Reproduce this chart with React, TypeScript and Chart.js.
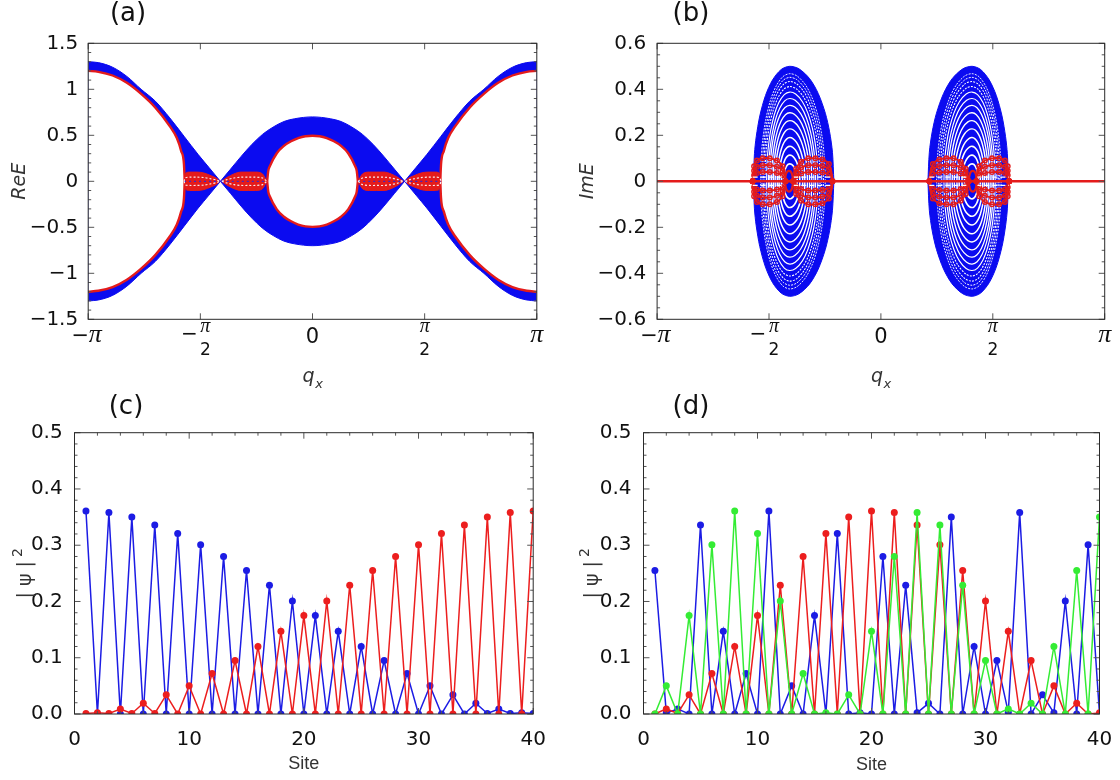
import React, { useEffect, useRef } from 'react';
import { Chart, registerables } from 'chart.js';

Chart.register(...registerables);
Chart.defaults.font.family = '"DejaVu Sans"';

const PI = Math.PI;

// ---------------- (a) Re E : band edges on the q<0 half (figure is symmetric in q and E) ----------------
const aOuterQ = [-3.1416, -3.0, -2.8, -2.6, -2.4, -2.2, -2.0, -1.8, -1.6, -1.45, -1.29];
const aOuterE = [1.3, 1.29, 1.24, 1.14, 1.0, 0.87, 0.69, 0.49, 0.29, 0.15, 0.0];
const aRedQ = [-3.1416, -3.0, -2.8, -2.6, -2.4, -2.2, -2.0, -1.9, -1.84, -1.8, -1.79];
const aRedE = [1.2, 1.19, 1.15, 1.07, 0.95, 0.8, 0.6, 0.47, 0.33, 0.18, 0.0];
const aCentQ = [-1.29, -1.15, -1.0, -0.85, -0.7, -0.55, -0.4, -0.25, 0];
const aCentE = [0.0, 0.13, 0.27, 0.4, 0.51, 0.59, 0.65, 0.68, 0.7];
const aHoleQ = [-0.635, -0.62, -0.6, -0.5, -0.4, -0.3, -0.2, -0.1, 0];
const aHoleE = [0.0, 0.11, 0.16, 0.305, 0.385, 0.435, 0.47, 0.49, 0.495];
const aLens1Q = [-1.8, -1.78, -1.72, -1.62, -1.52, -1.42, -1.34, -1.3];
const aLens1E = [0.0, 0.085, 0.1, 0.1, 0.09, 0.06, 0.03, 0.0];
const aLens2Q = [-1.27, -1.2, -1.1, -1.0, -0.9, -0.8, -0.7, -0.64];
const aLens2E = [0.0, 0.04, 0.08, 0.1, 0.1, 0.1, 0.08, 0.0];

// ---------------- (b) Im E : left loop (right one is its mirror) ----------------
const bCenter = -1.28;
const bEllQ = [-1.79, -1.775, -1.75, -1.7, -1.62, -1.52, -1.4, -1.28, -1.15, -1.0, -0.88, -0.78, -0.72, -0.68, -0.66];
const bEllE = [0.0, 0.12, 0.194, 0.284, 0.373, 0.441, 0.486, 0.5, 0.489, 0.446, 0.382, 0.296, 0.215, 0.126, 0.0];
// white gaps between the eigenvalue loops: half-height (ImE) and left half-width (q)
const bRingH = [0.468, 0.452, 0.434, 0.412, 0.388, 0.36, 0.33, 0.298, 0.264, 0.228, 0.19, 0.152, 0.114, 0.076];
const bRingW = [0.41, 0.39, 0.37, 0.35, 0.325, 0.3, 0.28, 0.255, 0.23, 0.205, 0.175, 0.15, 0.117, 0.087];
const bLens1Q = [-1.8, -1.78, -1.74, -1.66, -1.56, -1.46, -1.38, -1.34];
const bLens1E = [0.0, 0.065, 0.09, 0.1, 0.1, 0.09, 0.065, 0.0];
const bLens2Q = [-1.23, -1.19, -1.12, -1.02, -0.92, -0.82, -0.73, -0.68];
const bLens2E = [0.0, 0.055, 0.085, 0.1, 0.1, 0.095, 0.075, 0.0];
const bCoreQ = [-1.345, -1.33, -1.29, -1.25, -1.235];
const bCoreE = [0.0, 0.033, 0.045, 0.033, 0.0];

// ---------------- (c), (d) |psi|^2 per site ----------------
const sites = [1, 2, 3, 4, 5, 6, 7, 8, 9, 10, 11, 12, 13, 14, 15, 16, 17, 18, 19, 20,
  21, 22, 23, 24, 25, 26, 27, 28, 29, 30, 31, 32, 33, 34, 35, 36, 37, 38, 39, 40];
const cBlue = [0.361, 0, 0.358, 0, 0.35, 0, 0.336, 0, 0.321, 0, 0.301, 0, 0.28, 0, 0.255, 0, 0.229, 0, 0.201, 0,
  0.175, 0, 0.147, 0, 0.12, 0, 0.095, 0, 0.072, 0, 0.05, 0, 0.034, 0, 0.019, 0.001, 0.009, 0.001, 0.002, 0.001];
const cRed = [0.001, 0.002, 0.001, 0.009, 0.001, 0.019, 0.001, 0.034, 0, 0.05, 0, 0.072, 0, 0.095, 0, 0.12, 0, 0.147, 0, 0.175,
  0, 0.201, 0, 0.229, 0, 0.255, 0, 0.28, 0, 0.301, 0, 0.321, 0, 0.336, 0, 0.35, 0, 0.358, 0, 0.361];
const dBlue = [0.255, 0.002, 0.009, 0, 0.336, 0, 0.147, 0, 0.072, 0, 0.361, 0, 0.05, 0, 0.175, 0, 0.321, 0, 0.002, 0,
  0.28, 0, 0.229, 0.002, 0.019, 0, 0.35, 0, 0.12, 0, 0.095, 0.003, 0.358, 0, 0.034, 0.002, 0.201, 0, 0.301, 0];
const dRed = [0, 0.009, 0.001, 0.034, 0, 0.072, 0, 0.12, 0, 0.175, 0, 0.229, 0, 0.28, 0, 0.321, 0, 0.35, 0, 0.361,
  0, 0.358, 0, 0.336, 0, 0.301, 0, 0.255, 0, 0.201, 0, 0.147, 0, 0.095, 0, 0.05, 0, 0.019, 0, 0.002];
const dGreen = [0, 0.05, 0, 0.175, 0, 0.301, 0, 0.361, 0, 0.321, 0, 0.201, 0, 0.072, 0, 0.002, 0, 0.034, 0, 0.147,
  0, 0.28, 0, 0.358, 0, 0.336, 0, 0.229, 0, 0.095, 0, 0.009, 0, 0.019, 0, 0.12, 0, 0.255, 0, 0.35];

// ---------------- ticks ----------------
const piTicks = [-PI, -PI / 2, 0, PI / 2, PI];
const piTickLabels = ['−π', '−π/2', '0', 'π/2', 'π'];
const aYTicks = [-1.5, -1, -0.5, 0, 0.5, 1, 1.5];
const bYTicks = [-0.6, -0.4, -0.2, 0, 0.2, 0.4, 0.6];
const siteTicks = [0, 10, 20, 30, 40];
const psiTicks = [0, 0.1, 0.2, 0.3, 0.4, 0.5];

// ---------------- layout / style ----------------
const W = 560, H = 390;
type Area = { left: number; top: number; right: number; bottom: number };
const AREA_A: Area = { left: 88.2, top: 43.3, right: 536.8, bottom: 319.3 };
const AREA_B: Area = { left: 97.1, top: 43.3, right: 544.7, bottom: 319.3 };
const AREA_C: Area = { left: 74.5, top: 42.7, right: 533.2, bottom: 324 };
const AREA_D: Area = { left: 83.5, top: 42.7, right: 539.5, bottom: 324 };

const BAND_BLUE = '#0b0bf0';
const BAND_RED = '#e41b1b';
const LINE_BLUE = 'rgb(28,28,228)';
const LINE_RED = 'rgb(236,30,30)';
const LINE_GREEN = 'rgb(52,236,52)';

type Pt = { x: number; y: number };
const P = (qs: number[], es: number[]): Pt[] => qs.map((q, i) => ({ x: q, y: es[i] }));
const flipE = (pts: Pt[]) => pts.map(p => ({ x: p.x, y: -p.y }));
const mirrorQ = (pts: Pt[]) => pts.map(p => ({ x: -p.x, y: p.y })).reverse();
const symQ = (pts: Pt[]) => [...pts, ...mirrorQ(pts).slice(1)];
const loop = (top: Pt[]) => [...top, ...flipE(top).reverse().slice(1)];
const subTicks = (major: number[], n: number) => {
  const out: number[] = [];
  for (let i = 0; i < major.length - 1; i++) {
    const st = (major[i + 1] - major[i]) / n;
    for (let k = 1; k < n; k++) out.push(major[i] + k * st);
  }
  return out;
};

// ---------------- decoration plugin: frame, inner ticks, panel letter, pi labels, titles ----------------
const decoPlugin = {
  id: 'deco',
  afterDraw(chart: any, _a: any, o: any) {
    const { ctx, chartArea: ca } = chart;
    const xs = chart.scales.x, ys = chart.scales.y;
    ctx.save();
    ctx.lineWidth = 1;
    ctx.strokeStyle = '#555';
    ctx.beginPath();
    const xt = (vals: number[], len: number) => vals.forEach(v => {
      const p = xs.getPixelForValue(v);
      ctx.moveTo(p, ca.bottom); ctx.lineTo(p, ca.bottom - len);
      ctx.moveTo(p, ca.top); ctx.lineTo(p, ca.top + len);
    });
    const yt = (vals: number[], len: number) => vals.forEach(v => {
      const p = ys.getPixelForValue(v);
      ctx.moveTo(ca.left, p); ctx.lineTo(ca.left + len, p);
      ctx.moveTo(ca.right, p); ctx.lineTo(ca.right - len, p);
    });
    xt(o.xMajor, 6); xt(o.xMinor, 3); yt(o.yMajor, 6); yt(o.yMinor, 3);
    ctx.stroke();
    ctx.strokeStyle = '#2a2a2a';
    ctx.strokeRect(ca.left, ca.top, ca.right - ca.left, ca.bottom - ca.top);

    ctx.fillStyle = '#111';
    ctx.textAlign = 'center';
    ctx.textBaseline = 'alphabetic';
    ctx.font = '26px "DejaVu Sans"';
    ctx.fillText(o.label, o.labelX, o.labelY);

    if (o.pi) {
      piTicks.forEach((v, i) => {
        const p = xs.getPixelForValue(v);
        const t = piTickLabels[i];
        if (t.includes('/')) {
          const neg = t.startsWith('−');
          const cx = neg ? p + 5 : p;
          ctx.font = 'italic 20px "Liberation Serif"';
          ctx.fillText('π', cx, 332);
          ctx.font = '17px "DejaVu Sans"';
          ctx.fillText('2', cx, 355);
          if (neg) { ctx.font = '20px "DejaVu Sans"'; ctx.fillText('−', p - 11, 340); }
        } else if (t.includes('π')) {
          const neg = t.startsWith('−');
          ctx.font = 'italic 26px "Liberation Serif"';
          if (neg) {
            ctx.fillText('π', p + 7, 342);
            ctx.font = '21px "DejaVu Sans"';
            ctx.fillText('−', p - 8, 342);
          } else {
            ctx.fillText('π', p, 342);
          }
        } else {
          ctx.font = '21px "DejaVu Sans"';
          ctx.fillText(t, p, 343);
        }
      });
    }

    if (o.qTitle) {
      // q with subscript x (axis title)
      ctx.fillStyle = '#333';
      ctx.textAlign = 'left';
      ctx.font = 'italic 19px "DejaVu Sans"';
      const wq = ctx.measureText('q').width;
      ctx.font = 'italic 13px "DejaVu Sans"';
      const wx = ctx.measureText('x').width;
      const x0 = (ca.left + ca.right) / 2 - (wq + wx) / 2;
      ctx.font = 'italic 19px "DejaVu Sans"';
      ctx.fillText('q', x0, 382);
      ctx.font = 'italic 13px "DejaVu Sans"';
      ctx.fillText('x', x0 + wq + 0.5, 388);
    }

    if (o.psiX) {
      // |psi|^2 rotated axis title
      ctx.save();
      ctx.translate(o.psiX, (ca.top + ca.bottom) / 2);
      ctx.rotate(-PI / 2);
      ctx.fillStyle = '#333';
      ctx.textAlign = 'left';
      ctx.textBaseline = 'alphabetic';
      const main = '| ψ |';
      ctx.font = '19px "DejaVu Sans"';
      const wm = ctx.measureText(main).width;
      ctx.font = '14px "DejaVu Sans"';
      const w2 = ctx.measureText('2').width;
      const x0 = -(wm + 4 + w2) / 2;
      ctx.font = '19px "DejaVu Sans"';
      ctx.fillText(main, x0, 7);
      ctx.font = '14px "DejaVu Sans"';
      ctx.fillText('2', x0 + wm + 4, -2);
      ctx.restore();
    }
    ctx.restore();
  },
};

// ---------------- datasets ----------------
function buildA() {
  const ds: any[] = [];
  const band = (top: Pt[], fillColor: string, lineColor: string, lw: number, order: number) => {
    const i = ds.length;
    const common = { pointRadius: 0, cubicInterpolationMode: 'monotone', borderColor: lineColor, borderWidth: lw };
    ds.push({ ...common, data: top, fill: { target: i + 1 }, backgroundColor: fillColor, order });
    ds.push({ ...common, data: flipE(top), fill: false, order: order - 0.5 });
  };
  const outerL = P(aOuterQ, aOuterE);
  band(outerL, BAND_BLUE, BAND_BLUE, 1, 20);
  band(mirrorQ(outerL), BAND_BLUE, BAND_BLUE, 1, 20);
  band(symQ(P(aCentQ, aCentE)), BAND_BLUE, BAND_BLUE, 1, 20);
  const redL = P(aRedQ, aRedE);
  band(redL, '#ffffff', BAND_RED, 2.4, 15);
  band(mirrorQ(redL), '#ffffff', BAND_RED, 2.4, 15);
  band(symQ(P(aHoleQ, aHoleE)), '#ffffff', BAND_RED, 2.4, 15);
  const l1 = P(aLens1Q, aLens1E), l2 = P(aLens2Q, aLens2E);
  const lenses = [l1, l2, mirrorQ(l1), mirrorQ(l2)];
  lenses.forEach(l => band(l, BAND_RED, BAND_RED, 1, 10));
  lenses.forEach(l => {
    const inner = l.map(p => ({ x: p.x, y: p.y * 0.45 }));
    ds.push({ data: inner, borderColor: 'rgba(255,255,255,0.9)', borderWidth: 1.2, borderDash: [2, 2], pointRadius: 0, fill: false, order: 5, tension: 0.3 });
    ds.push({ data: flipE(inner), borderColor: 'rgba(255,255,255,0.9)', borderWidth: 1.2, borderDash: [2, 2], pointRadius: 0, fill: false, order: 5, tension: 0.3 });
    ds.push({ data: l.map(p => ({ x: p.x, y: 0 })), borderColor: 'rgba(40,40,220,0.9)', borderWidth: 1.2, borderDash: [2, 3], pointRadius: 0, fill: false, order: 5 });
  });
  return ds;
}

function buildB() {
  const ds: any[] = [];
  const ellTop = P(bEllQ, bEllE);
  [ellTop, mirrorQ(ellTop)].forEach(top => {
    const i = ds.length;
    ds.push({ data: top, fill: { target: i + 1 }, backgroundColor: BAND_BLUE, borderColor: BAND_BLUE, borderWidth: 1, pointRadius: 0, tension: 0.3, order: 20 });
    ds.push({ data: flipE(top), fill: false, borderColor: BAND_BLUE, borderWidth: 1, pointRadius: 0, tension: 0.3, order: 19.5 });
  });
  const eMax = Math.max(...bEllE);
  const wLeft = bCenter - bEllQ[0];
  bRingH.forEach((h, k) => {
    const sv = h / eMax, sh = bRingW[k] / wLeft;
    const ring = loop(P(bEllQ.map(q => bCenter + (q - bCenter) * sh), bEllE.map(e => e * sv)));
    const lw = 0.9 + (0.8 * k) / (bRingH.length - 1);
    const dash = k < 4 ? [2, 1.2] : [];
    [ring, mirrorQ(ring)].forEach(d => ds.push({ data: d, borderColor: '#ffffff', borderWidth: lw, borderDash: dash, pointRadius: 0, tension: 0.3, fill: false, order: 15 }));
  });
  const lensStyle = {
    borderColor: BAND_RED, borderWidth: 1.8, pointRadius: 2.3, pointStyle: 'circle', pointBorderColor: BAND_RED,
    pointBackgroundColor: 'rgba(0,0,0,0)', pointBorderWidth: 1.4, tension: 0.3, fill: false, order: 10,
  };
  [P(bLens1Q, bLens1E), P(bLens2Q, bLens2E)].forEach(l => {
    [1, 0.7, 0.4].forEach(sc => {
      const lp = loop(l.map(p => ({ x: p.x, y: p.y * sc })));
      [lp, mirrorQ(lp)].forEach(d => ds.push({ ...lensStyle, data: d }));
    });
    const streak = l.map(p => ({ x: p.x, y: 0.018 }));
    [streak, mirrorQ(streak), flipE(streak), mirrorQ(flipE(streak))].forEach(d => ds.push({ data: d, borderColor: '#ffffff', borderWidth: 1.3, borderDash: [5, 3], pointRadius: 0, fill: false, order: 8 }));
  });
  const core = loop(P(bCoreQ, bCoreE));
  [core, mirrorQ(core)].forEach(d => ds.push({ data: d, borderColor: BAND_RED, borderWidth: 2.2, pointRadius: 0, tension: 0.4, fill: false, order: 6 }));
  ds.push({ data: [{ x: -PI, y: 0 }, { x: PI, y: 0 }], borderColor: BAND_RED, borderWidth: 2.6, pointRadius: 0, fill: false, order: 0 });
  return ds;
}

const series = (ys: number[], color: string, order: number) => ({
  data: sites.map((s, i) => ({ x: s, y: ys[i] })),
  borderColor: color, backgroundColor: color, borderWidth: 1.5,
  pointRadius: 3.5, pointBackgroundColor: color, pointBorderWidth: 0, pointHoverRadius: 0,
  fill: false, tension: 0, order,
});

const buildC = () => [series(cRed, LINE_RED, 0), series(cBlue, LINE_BLUE, 1)];
const buildD = () => [series(dGreen, LINE_GREEN, 0), series(dRed, LINE_RED, 1), series(dBlue, LINE_BLUE, 2)];

// ---------------- chart factory ----------------
type Cfg = {
  datasets: any[]; area: Area;
  xMin: number; xMax: number; yMin: number; yMax: number;
  xTicks: number[]; yTicks: number[]; showXTicks: boolean;
  xFmt: (v: number) => string; yFmt: (v: number) => string; yPad: number;
  xTitle: string; xTitleFont: any; xTitlePad: number;
  yTitle: string; yTitleFont: any; yTitlePad: number;
  deco: any;
};

function makeChart(canvas: HTMLCanvasElement, cfg: Cfg) {
  const tickFont = { family: '"DejaVu Sans"', size: 20 };
  return new Chart(canvas, {
    type: 'line',
    data: { datasets: cfg.datasets },
    options: {
      responsive: false,
      animation: false,
      events: [],
      layout: { padding: { left: 0, top: cfg.area.top, right: W - cfg.area.right, bottom: 0 } },
      plugins: {
        legend: { display: false },
        tooltip: { enabled: false },
        filler: { drawTime: 'beforeDatasetDraw', propagate: false },
        deco: cfg.deco,
      } as any,
      scales: {
        x: {
          type: 'linear', min: cfg.xMin, max: cfg.xMax,
          afterBuildTicks: (s: any) => { s.ticks = cfg.xTicks.map(v => ({ value: v })); },
          afterFit: (s: any) => { s.height = H - cfg.area.bottom; },
          grid: { display: false }, border: { display: false },
          ticks: { display: cfg.showXTicks, font: tickFont, color: '#111', padding: 6, maxRotation: 0, autoSkip: false, callback: (v: any) => cfg.xFmt(Number(v)) },
          title: { display: cfg.xTitle !== '', text: cfg.xTitle, font: cfg.xTitleFont, color: '#333', padding: { top: 0, bottom: cfg.xTitlePad } },
        },
        y: {
          type: 'linear', min: cfg.yMin, max: cfg.yMax,
          afterBuildTicks: (s: any) => { s.ticks = cfg.yTicks.map(v => ({ value: v })); },
          afterFit: (s: any) => { s.width = cfg.area.left; },
          grid: { display: false }, border: { display: false },
          ticks: { font: tickFont, color: '#111', padding: cfg.yPad, autoSkip: false, callback: (v: any) => cfg.yFmt(Number(v)) },
          title: { display: cfg.yTitle !== '', text: cfg.yTitle, font: cfg.yTitleFont, color: '#333', padding: { top: cfg.yTitlePad, bottom: 0 } },
        },
      } as any,
    },
    plugins: [decoPlugin as any],
  });
}

const fmtPlain = (v: number) => String(Math.round(v * 10) / 10).replace('-', '−');
const fmtOne = (v: number) => (Math.abs(v) < 1e-9 ? '0' : v.toFixed(1).replace('-', '−'));
const fmtFixed = (v: number) => v.toFixed(1);
const fmtInt = (v: number) => String(Math.round(v));

const qFont = { family: '"DejaVu Sans"', size: 19, style: 'italic' };
const eFont = { family: '"DejaVu Sans"', size: 19, style: 'italic' };
const siteFont = { family: '"Liberation Sans"', size: 18 };
const psiFont = { family: '"DejaVu Sans"', size: 19 };

const cfgA = (): Cfg => ({
  datasets: buildA(), area: AREA_A, xMin: -PI, xMax: PI, yMin: -1.5, yMax: 1.5,
  xTicks: piTicks, yTicks: aYTicks, showXTicks: false, xFmt: fmtPlain, yFmt: fmtPlain, yPad: 2,
  xTitle: '', xTitleFont: qFont, xTitlePad: 1.6, yTitle: 'ReE', yTitleFont: eFont, yTitlePad: 8.3,
  deco: { xMajor: piTicks, xMinor: [], yMajor: aYTicks, yMinor: subTicks(aYTicks, 5), label: '(a)', labelX: 128, labelY: 21, pi: true, qTitle: true },
});
const cfgB = (): Cfg => ({
  datasets: buildB(), area: AREA_B, xMin: -PI, xMax: PI, yMin: -0.6, yMax: 0.6,
  xTicks: piTicks, yTicks: bYTicks, showXTicks: false, xFmt: fmtPlain, yFmt: fmtOne, yPad: 3,
  xTitle: '', xTitleFont: qFont, xTitlePad: 1.6, yTitle: 'ImE', yTitleFont: eFont, yTitlePad: 16.3,
  deco: { xMajor: piTicks, xMinor: [], yMajor: bYTicks, yMinor: subTicks(bYTicks, 4), label: '(b)', labelX: 131, labelY: 21, pi: true, qTitle: true },
});
const cfgC = (): Cfg => ({
  datasets: buildC(), area: AREA_C, xMin: 0, xMax: 40, yMin: 0, yMax: 0.5,
  xTicks: siteTicks, yTicks: psiTicks, showXTicks: true, xFmt: fmtInt, yFmt: fmtFixed, yPad: 3.8,
  xTitle: 'Site', xTitleFont: siteFont, xTitlePad: 5.4, yTitle: '', yTitleFont: psiFont, yTitlePad: 12.6,
  deco: { xMajor: siteTicks, xMinor: subTicks(siteTicks, 5), yMajor: psiTicks, yMinor: subTicks(psiTicks, 5), label: '(c)', labelX: 126, labelY: 24, pi: false, psiX: 24 },
});
const cfgD = (): Cfg => ({
  datasets: buildD(), area: AREA_D, xMin: 0, xMax: 40, yMin: 0, yMax: 0.5,
  xTicks: siteTicks, yTicks: psiTicks, showXTicks: true, xFmt: fmtInt, yFmt: fmtFixed, yPad: 4,
  xTitle: 'Site', xTitleFont: siteFont, xTitlePad: 4.4, yTitle: '', yTitleFont: psiFont, yTitlePad: 20.6,
  deco: { xMajor: siteTicks, xMinor: subTicks(siteTicks, 5), yMajor: psiTicks, yMinor: subTicks(psiTicks, 5), label: '(d)', labelX: 131, labelY: 24, pi: false, psiX: 31 },
});

function Panel({ left, top, make }: { left: number; top: number; make: () => Cfg }) {
  const ref = useRef<HTMLCanvasElement>(null);
  useEffect(() => {
    if (!ref.current) return;
    const chart = makeChart(ref.current, make());
    return () => chart.destroy();
  }, []);
  return (
    <canvas ref={ref} width={W} height={H}
      style={{ position: 'absolute', left, top, width: W, height: H, display: 'block' }} />
  );
}

export default function App() {
  return (
    <div style={{ position: 'absolute', left: 0, top: 0, width: 1120, height: 780, background: '#ffffff', overflow: 'hidden' }}>
      <Panel left={0} top={0} make={cfgA} />
      <Panel left={560} top={0} make={cfgB} />
      <Panel left={0} top={390} make={cfgC} />
      <Panel left={560} top={390} make={cfgD} />
    </div>
  );
}
